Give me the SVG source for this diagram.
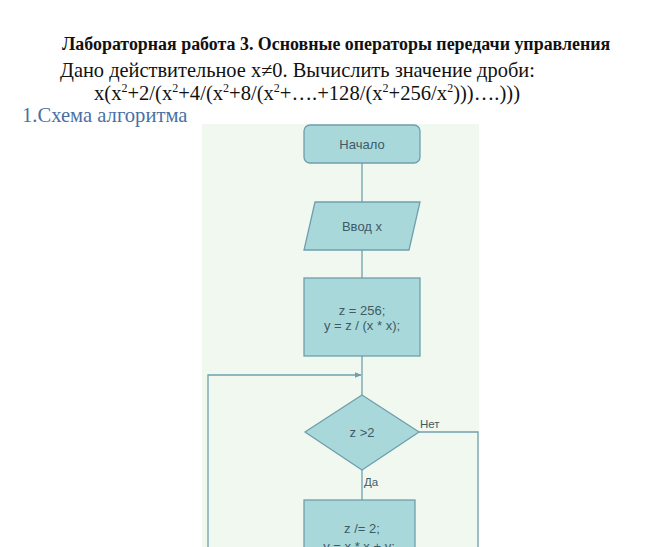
<svg xmlns="http://www.w3.org/2000/svg" width="666" height="547" viewBox="0 0 666 547">
<style>
.h{font-family:"Liberation Serif",serif;fill:#111}
.n{fill:#a9d8db;stroke:#6f9fae;stroke-width:1.3}
.t{font-family:"Liberation Sans",Arial,sans-serif;font-size:13px;fill:#3e5a64;text-anchor:middle}
.c{fill:none;stroke:#6f9fae;stroke-width:1.3}
.l{font-family:"Liberation Sans",Arial,sans-serif;font-size:11.5px;fill:#3e5a64}
.s{font-size:12px}
</style>
<defs>
<marker id="a" viewBox="0 0 10 10" refX="9" refY="5" markerWidth="7" markerHeight="7" orient="auto" markerUnits="userSpaceOnUse"><path d="M0,1 L10,5 L0,9 z" fill="#6f9fae"/></marker>
</defs>
<rect width="666" height="547" fill="#fff"/>
<text class="h" x="62" y="50" font-size="17.9" font-weight="bold">Лабораторная работа 3. Основные операторы передачи управления</text>
<text class="h" x="60" y="77" font-size="20.4">Дано действительное x≠0. Вычислить значение дроби:</text>
<text class="h" x="94" y="100" font-size="20.6">x(x<tspan class="s" dy="-8">2</tspan><tspan dy="8">+2/(x</tspan><tspan class="s" dy="-8">2</tspan><tspan dy="8">+4/(x</tspan><tspan class="s" dy="-8">2</tspan><tspan dy="8">+8/(x</tspan><tspan class="s" dy="-8">2</tspan><tspan dy="8">+….+128/(x</tspan><tspan class="s" dy="-8">2</tspan><tspan dy="8">+256/x</tspan><tspan class="s" dy="-8">2</tspan><tspan dy="8">)))….)))</tspan></text>
<text class="h" x="22" y="122" font-size="20.6" style="fill:#4a6fa5">1.Схема алгоритма</text>
<rect x="202" y="124" width="277" height="423" fill="#f0f8ef"/>
<g id="connectors">
<path class="c" d="M362,163 V202"/>
<path class="c" d="M362,250 V278"/>
<path class="c" d="M362,356 V395"/>
<path class="c" d="M208,547 V375 H361" marker-end="url(#a)"/>
<path class="c" d="M419,432 H478 V547"/>
<path class="c" d="M362,470 V500"/>
<text class="l" x="420" y="428">Нет</text>
<text class="l" x="364" y="486">Да</text>
</g>
<g id="start">
<rect class="n" x="304" y="125" width="116" height="38" rx="6"/>
<text class="t" x="362" y="149">Начало</text>
</g>
<g id="input">
<path class="n" d="M315,202 H420 L409,250 H304 Z"/>
<text class="t" x="362" y="231">Ввод x</text>
</g>
<g id="init">
<rect class="n" x="304" y="278" width="116" height="78"/>
<text class="t" x="362" y="315">z = 256;</text>
<text class="t" x="362" y="330">y = z / (x * x);</text>
</g>
<g id="cond">
<path class="n" d="M362,395 L419,432 L362,470 L305,432 Z"/>
<text class="t" x="362" y="437">z &gt;2</text>
</g>
<g id="step">
<rect class="n" x="304" y="500" width="111" height="70"/>
<text class="t" x="362" y="533">z /= 2;</text>
<text class="t" x="359" y="551">y = x * x + y;</text>
</g>
</svg>
